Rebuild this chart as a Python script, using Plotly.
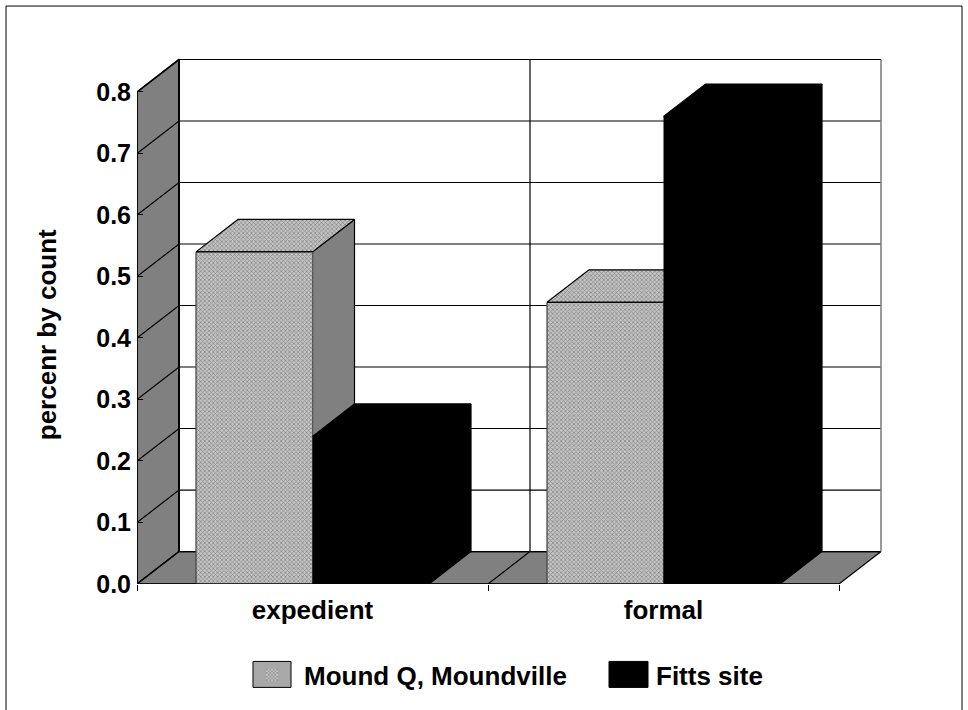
import numpy as np
import plotly.graph_objects as go

categories = ["expedient", "formal"]
mound_q = [0.54, 0.458]
fitts = [0.24, 0.76]
y_ticks = [0.0, 0.1, 0.2, 0.3, 0.4, 0.5, 0.6, 0.7, 0.8]
y_labels = ["0.0", "0.1", "0.2", "0.3", "0.4", "0.5", "0.6", "0.7", "0.8"]

W, H = 968, 710
L, R, T, B = 137, 885, 55, 584.5
xmax_px = 702           # width of the front axis
unit_x = xmax_px / 2
unit_y = 492.5 / 0.8
DX = 42 / unit_x        # depth of the pseudo-3D projection
DY = 32.5 / unit_y
BAR_W = 116.5 / unit_x
GRAY = "#808080"
FONT = "Liberation Sans, Arial, sans-serif"
PAT = dict(shape="x", size=3, solidity=0.4, fgcolor="#808080", bgcolor="#c4c4c4", fillmode="replace")

xc = np.arange(len(categories)) + 0.5
ymax = max(y_ticks)
fig = go.Figure()


def poly(xs, ys, fill, z, line="#000000", lw=1.2, pattern=None):
    kw = dict(fillpattern=pattern) if pattern else {}
    fig.add_trace(go.Scatter(x=xs, y=ys, mode="lines", fill="toself", fillcolor=fill,
                             line=dict(color=line, width=lw), hoverinfo="skip",
                             showlegend=False, zorder=z, **kw))


def seg(xs, ys, z, color="#000000", lw=1.2):
    fig.add_trace(go.Scatter(x=xs, y=ys, mode="lines", line=dict(color=color, width=lw),
                             hoverinfo="skip", showlegend=False, zorder=z))


# walls and floor
poly([0, DX, DX, 0, 0], [0, DY, ymax + DY, ymax, 0], GRAY, 0, lw=1.6)
poly([0, DX, 2 + DX, 2, 0], [0, DY, DY, 0, 0], GRAY, 0)
for t in y_ticks:
    seg([0, DX, 2 + DX], [t, t + DY, t + DY], 1)
seg([1, 1 + DX, 1 + DX], [0, DY, ymax + DY], 1)
seg([2 + DX, 2 + DX], [DY, ymax + DY], 1, color=GRAY, lw=1.6)
seg([DX, DX], [DY, ymax + DY], 1, lw=1.8)

# bars: sides and tops built from the values, fronts drawn as bar traces
for i, c in enumerate(xc):
    v = mound_q[i]
    x0, x1 = c - BAR_W, c
    poly([x1, x1 + DX, x1 + DX, x1, x1], [0, DY, v + DY, v, 0], GRAY, 2)
    poly([x0, x0 + DX, x1 + DX, x1, x0], [v, v + DY, v + DY, v, v], "#a8a8a8", 2, pattern=PAT)
fig.add_trace(go.Bar(x=xc, y=mound_q, width=BAR_W, offset=-BAR_W, name="Mound Q, Moundville",
                     marker=dict(color="#a8a8a8", pattern=PAT, line=dict(width=0)), zorder=3))
for i, c in enumerate(xc):
    v = mound_q[i]
    seg([c - BAR_W, c - BAR_W], [0, v], 3, color="#404040", lw=1.2)
    seg([c - BAR_W, c], [v, v], 3, lw=1.2)
for i, c in enumerate(xc):
    v = fitts[i]
    x0, x1 = c, c + BAR_W
    poly([x1, x1 + DX, x1 + DX, x1, x1], [0, DY, v + DY, v, 0], "#000000", 4)
    poly([x0, x0 + DX, x1 + DX, x1, x0], [v, v + DY, v + DY, v, v], "#000000", 4)
fig.add_trace(go.Bar(x=xc, y=fitts, width=BAR_W, offset=0, name="Fitts site",
                     marker=dict(color="#000000", line=dict(width=0)), zorder=5))

# front axis lines
seg([0, 2], [0, 0], 6, lw=1.6)
seg([0, 0], [0, ymax], 6, lw=1.6)


def px(x):
    return (x - L) / (R - L)


def py(y):
    return (B - y) / (B - T)


swatch = [(253, 291, "#a8a8a8"), (609, 648, "#000000")]
shapes = [dict(type="rect", xref="paper", yref="paper", x0=px(6), x1=px(962), y0=py(730), y1=py(6),
               line=dict(color="#000000", width=1), fillcolor="rgba(0,0,0,0)")]
for a, b, col in swatch:
    shapes.append(dict(type="rect", xref="paper", yref="paper", x0=px(a), x1=px(b), y0=py(688), y1=py(662),
                       fillcolor=col, line=dict(color="#000000", width=1)))

fig.update_layout(
    width=W, height=H, autosize=False,
    margin=dict(l=L, r=W - R, t=T, b=H - B, pad=0),
    plot_bgcolor="#ffffff", paper_bgcolor="#ffffff",
    barmode="overlay", font=dict(family=FONT, color="#000000", size=25),
    shapes=shapes,
    xaxis=dict(range=[0, (R - L) / unit_x], tickmode="array", tickvals=list(xc), ticktext=categories,
               ticks="", showgrid=False, zeroline=False, showline=False, ticklabelstandoff=8,
               tickfont=dict(size=26, family=FONT, weight="bold"),
               minor=dict(tickmode="array", tickvals=[0, 1, 2], ticks="outside", ticklen=6,
                          tickcolor="#000000", tickwidth=1.2, showgrid=False)),
    yaxis=dict(range=[0, (B - T) / unit_y], tickmode="array", tickvals=y_ticks, ticktext=y_labels,
               ticks="inside", ticklen=6, tickwidth=1.2, tickcolor="#000000", showgrid=False,
               zeroline=False, showline=False, ticklabelstandoff=5,
               tickfont=dict(size=25, family=FONT, weight="bold")),
    legend=dict(orientation="h", xref="container", yref="container", x=240 / W, y=(H - 675) / H,
                xanchor="left", yanchor="middle",
                itemwidth=54, entrywidth=283, entrywidthmode="pixels",
                font=dict(size=26, family=FONT, weight="bold"), bgcolor="rgba(0,0,0,0)",
                traceorder="normal", itemclick=False, itemdoubleclick=False),
    annotations=[dict(text="<b>percenr by count</b>", xref="paper", yref="paper", x=px(47), y=py(335.5),
                      xanchor="center", yanchor="middle", showarrow=False, textangle=-90,
                      font=dict(size=26, family=FONT))],
)

fig.write_html("out.html", config=dict(displayModeBar=False),
               post_script="document.body.style.margin='0';document.body.style.overflow='hidden';")
